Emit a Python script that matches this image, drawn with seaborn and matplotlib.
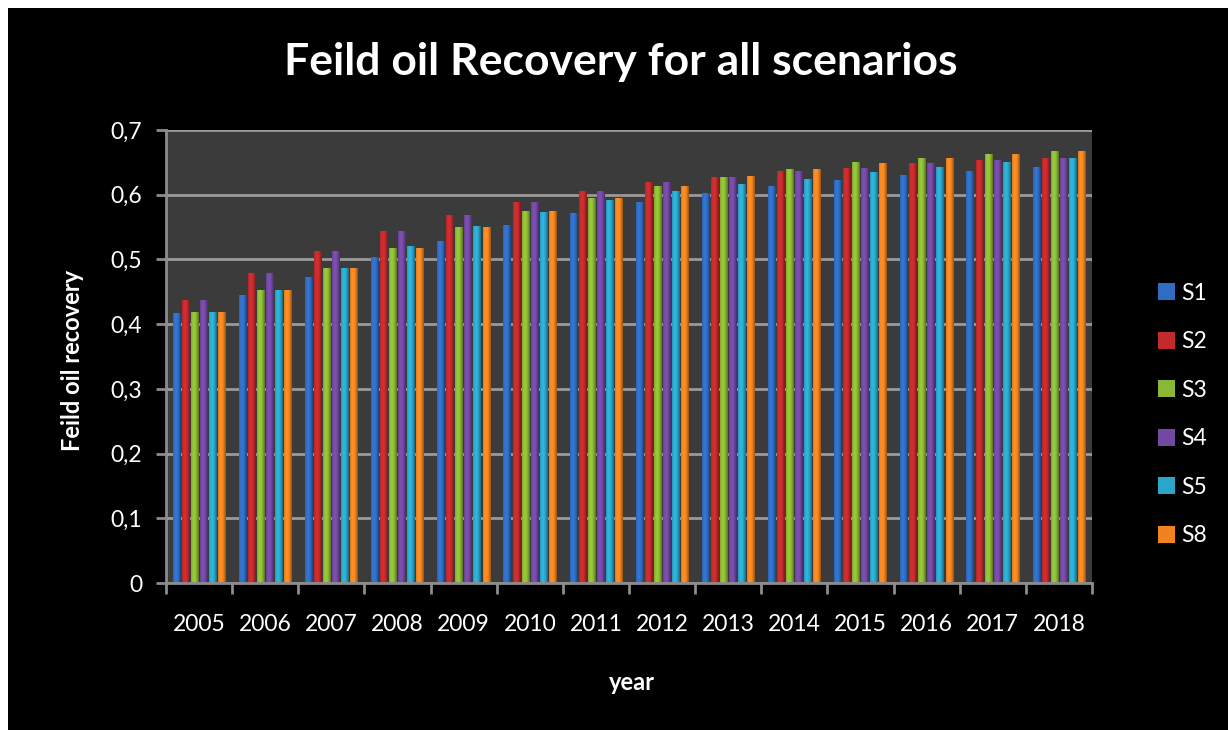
import matplotlib
matplotlib.use("Agg")
import matplotlib.pyplot as plt
from matplotlib.patches import Rectangle
from matplotlib.colors import to_rgb
from matplotlib.ticker import FuncFormatter, FixedLocator
import numpy as np
import seaborn as sns
import pandas as pd

# Field oil recovery factor per year for each scenario
years = [2005, 2006, 2007, 2008, 2009, 2010, 2011, 2012, 2013, 2014, 2015, 2016, 2017, 2018]
scenarios = ["S1", "S2", "S3", "S4", "S5", "S8"]
s1 = [0.417, 0.445, 0.473, 0.503, 0.529, 0.553, 0.572, 0.589, 0.602, 0.613, 0.622, 0.631, 0.636, 0.643]
s2 = [0.437, 0.479, 0.513, 0.544, 0.569, 0.589, 0.605, 0.619, 0.628, 0.636, 0.642, 0.649, 0.653, 0.656]
s3 = [0.419, 0.452, 0.486, 0.518, 0.550, 0.575, 0.595, 0.613, 0.628, 0.639, 0.650, 0.656, 0.663, 0.667]
s4 = [0.437, 0.479, 0.513, 0.544, 0.569, 0.589, 0.605, 0.619, 0.628, 0.636, 0.642, 0.649, 0.653, 0.656]
s5 = [0.419, 0.452, 0.486, 0.521, 0.551, 0.573, 0.592, 0.606, 0.617, 0.625, 0.635, 0.643, 0.650, 0.656]
s8 = [0.419, 0.452, 0.486, 0.518, 0.550, 0.575, 0.595, 0.613, 0.629, 0.639, 0.649, 0.656, 0.663, 0.667]
colors = ["#2f6cc2", "#c22a2c", "#8bb834", "#7248a2", "#2aa6ca", "#f0831f"]

series = [s1, s2, s3, s4, s5, s8]
df = pd.DataFrame(
    [(str(y), name, v) for name, vals in zip(scenarios, series) for y, v in zip(years, vals)],
    columns=["year", "scenario", "recovery"],
)

sns.set_theme(style="dark")
plt.rcParams["font.family"] = ["Lato", "DejaVu Sans"]

W, H = 1228, 730
fig = plt.figure(figsize=(W / 100, H / 100), dpi=100)
fig.patch.set_facecolor("black")
# thin white margin along the left and top edges
fig.add_artist(Rectangle((0, 0), 8 / W, 1, transform=fig.transFigure,
                         facecolor="white", edgecolor="none", zorder=-10))
fig.add_artist(Rectangle((0, 1 - 8 / H), 1, 8 / H, transform=fig.transFigure,
                         facecolor="white", edgecolor="none", zorder=-10))

ax = fig.add_axes([166 / W, 1 - 583 / H, 926 / W, 453 / H])
ax.set_facecolor("#3b3b3b")

sns.barplot(data=df, x="year", y="recovery", hue="scenario", palette=colors,
            width=0.82, gap=0.18, saturation=1, linewidth=0, edgecolor="none",
            ax=ax, legend=False)

ax.set_ylim(0, 0.7)
ax.set_xlim(-0.5, len(years) - 0.5)

# cylinder-like shading: horizontal light/dark gradient clipped to each bar
profile = np.linspace(-1, 1, 32)
shade = 0.6 + 0.5 * np.cos(np.clip(profile + 0.25, -1.4, 1.4) * np.pi / 2.6)
for bar in list(ax.patches):
    rgb = np.array(to_rgb(bar.get_facecolor()))
    img = np.clip(rgb[None, None, :] * shade[None, :, None], 0, 1)
    x0, y0 = bar.get_x(), bar.get_y()
    im = ax.imshow(img, extent=(x0, x0 + bar.get_width(), y0, y0 + bar.get_height()),
                   aspect="auto", interpolation="bilinear", zorder=bar.get_zorder() + 0.1)
    im.set_clip_path(bar)
ax.set_ylim(0, 0.7)
ax.set_xlim(-0.5, len(years) - 0.5)

ax.yaxis.set_major_locator(FixedLocator([i / 10 for i in range(8)]))
ax.yaxis.set_major_formatter(FuncFormatter(lambda v, p: "0" if abs(v) < 1e-9 else f"{v:.1f}".replace(".", ",")))
ax.set_axisbelow(True)
ax.grid(axis="y", color="#9a9a9a", linewidth=2)
ax.grid(axis="x", visible=False)

for side in ["top", "right"]:
    ax.spines[side].set_visible(False)
for side in ["left", "bottom"]:
    ax.spines[side].set_visible(True)
    ax.spines[side].set_color("#8c8c8c")
    ax.spines[side].set_linewidth(2)

ax.tick_params(axis="y", which="major", left=True, length=7, width=2, color="#8c8c8c",
               labelcolor="white", labelsize=16.5, pad=10)
ax.xaxis.set_minor_locator(FixedLocator([i - 0.5 for i in range(len(years) + 1)]))
ax.tick_params(axis="x", which="minor", bottom=True, length=8, width=2, color="#8c8c8c")
ax.tick_params(axis="x", which="major", bottom=False, length=0, labelcolor="white",
               labelsize=16.5, pad=22)

ax.set_xlabel("")
ax.set_ylabel("")
fig.text(621 / W, 1 - 62 / H, "Feild oil Recovery for all scenarios", color="white",
         fontsize=32, fontweight="bold", ha="center", va="center")
fig.text(72 / W, 1 - 360 / H, "Feild oil recovery", color="white", fontsize=17,
         fontweight="bold", rotation=90, ha="center", va="center")
fig.text(632 / W, 1 - 683 / H, "year", color="white", fontsize=17,
         fontweight="bold", ha="center", va="center")

handles = [Rectangle((0, 0), 1, 1, facecolor=c, edgecolor="none") for c in colors]
leg = fig.legend(handles, scenarios, loc="upper left", bbox_to_anchor=(1137 / W, 1 - 262 / H),
                 frameon=False, handlelength=0.75, handleheight=0.75, handletextpad=0.3,
                 labelspacing=1.2, fontsize=16.5, labelcolor="white")

fig.savefig("out.png", dpi=100, facecolor=fig.get_facecolor())
